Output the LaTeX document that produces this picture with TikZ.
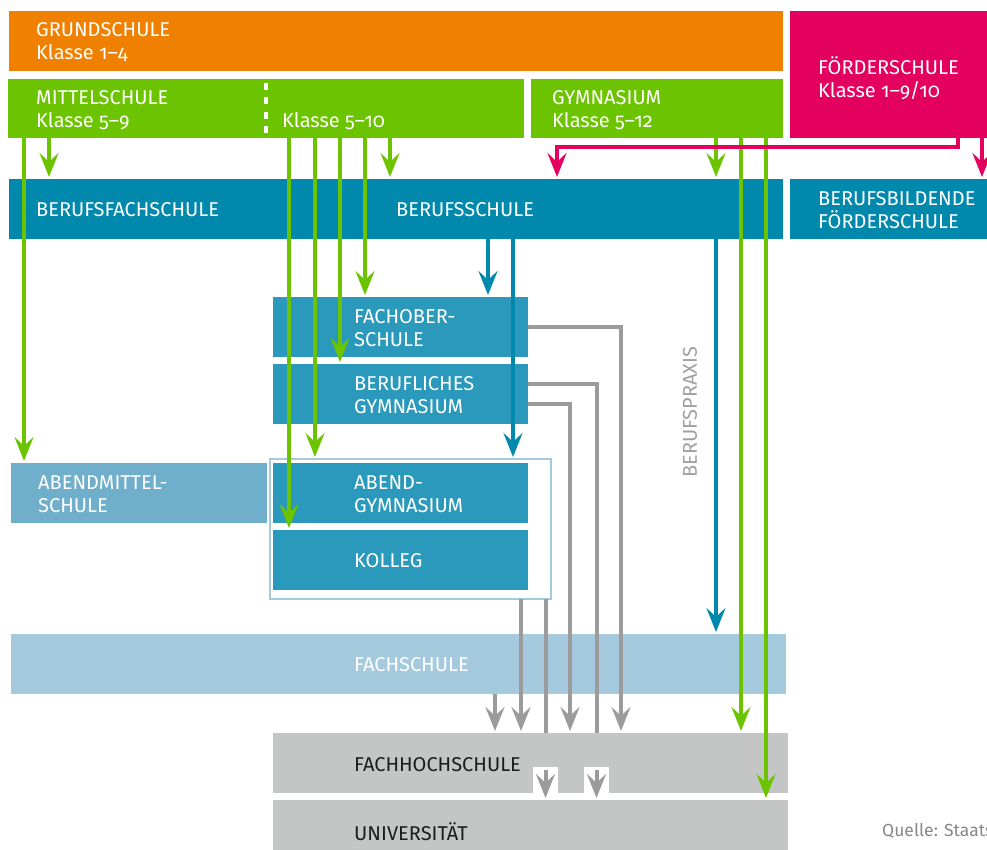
\documentclass[tikz,border=0pt]{standalone}
\usepackage{fontspec}
\setmainfont{Fira Sans}[Numbers=OldStyle]
\usetikzlibrary{arrows.meta}

\definecolor{grundorange}{RGB}{240,128,0}
\definecolor{mittelgreen}{RGB}{108,196,0}
\definecolor{foerderpink}{RGB}{228,0,95}
\definecolor{berufblue}{RGB}{0,136,173}
\definecolor{fosblue}{RGB}{42,153,187}
\definecolor{amsblue}{RGB}{111,175,203}
\definecolor{fsblue}{RGB}{166,202,221}
\definecolor{hochgrey}{RGB}{196,197,197}
\definecolor{pfeilgrey}{RGB}{155,155,155}
\definecolor{praxisgrey}{RGB}{160,160,160}
\definecolor{quellegrey}{RGB}{135,135,135}
\definecolor{hochtext}{RGB}{29,29,27}

\begin{document}
\begin{tikzpicture}[x=1pt,y=-1pt]
            \tikzstyle{school box}=[rectangle,inner sep=0,outer sep=0,anchor=north west]
            \tikzstyle{box text}=[inner sep=0,anchor=west,align=left,text=white,font=\fontsize{20}{23}\selectfont]
            \tikzstyle{dark text}=[box text,text=hochtext]
            \tikzstyle{green arrow}=[draw=mittelgreen,line width=4pt,-{Stealth[length=24pt,width=19pt,inset=9pt]},shorten >=2pt]
            \tikzstyle{blue arrow}=[green arrow,draw=berufblue]
            \tikzstyle{pink arrow}=[green arrow,draw=foerderpink]
            \tikzstyle{grey arrow}=[green arrow,draw=pfeilgrey]
            \tikzstyle{grey line}=[draw=pfeilgrey,line width=4pt]

            \useasboundingbox (0,0) rectangle (987,850);

            % boxes
            \node[school box,fill=grundorange,minimum width=774pt,minimum height=60pt] (grund) at (9,11) {};
            \node[school box,fill=foerderpink,minimum width=200pt,minimum height=127pt] (foerder) at (790,11) {};
            \node[school box,fill=mittelgreen,minimum width=516pt,minimum height=59pt] (mittel) at (8,79) {};
            \node[school box,fill=mittelgreen,minimum width=252pt,minimum height=59pt] (gym) at (531,79) {};
            \node[school box,fill=berufblue,minimum width=774pt,minimum height=60pt] (beruf) at (9,179) {};
            \node[school box,fill=berufblue,minimum width=200pt,minimum height=60pt] (bbf) at (790,179) {};
            \node[school box,fill=fosblue,minimum width=255pt,minimum height=60pt] (fos) at (273,297) {};
            \node[school box,fill=fosblue,minimum width=255pt,minimum height=60pt] (bg) at (273,364) {};
            \node[school box,draw=fsblue,line width=1.5pt,minimum width=281pt,minimum height=140pt] (abendbox) at (270,459) {};
            \node[school box,fill=fosblue,minimum width=255pt,minimum height=60pt] (ag) at (273,463) {};
            \node[school box,fill=fosblue,minimum width=255pt,minimum height=60pt] (kolleg) at (273,530) {};
            \node[school box,fill=amsblue,minimum width=256pt,minimum height=60pt] (ams) at (11,463) {};
            \node[school box,fill=fsblue,minimum width=775pt,minimum height=60pt] (fs) at (11,634) {};
            \node[school box,fill=hochgrey,minimum width=515pt,minimum height=60pt] (fh) at (273,733) {};
            \node[school box,fill=hochgrey,minimum width=515pt,minimum height=60pt] (uni) at (273,800) {};
            \node[school box,fill=white,minimum width=25pt,minimum height=26pt] (gapa) at (533,767) {};
            \node[school box,fill=white,minimum width=25pt,minimum height=26pt] (gapb) at (584,767) {};

            \draw[white,line width=4pt,dash pattern=on 7pt off 7.5pt] (266,83) -- (266,136);

            % labels
            \node[box text] (grundtxt) at (36,42) {GRUNDSCHULE\\Klasse 1–4};
            \node[box text] (foerdertxt) at (818,78) {FÖRDERSCHULE\\Klasse 1–9/10};
            \node[box text] (mitteltxt) at (36,110) {MITTELSCHULE\\Klasse 5–9};
            \node[box text,anchor=base west] (realtxt) at (282,128) {Klasse 5–10};
            \node[box text] (gymtxt) at (552,110) {GYMNASIUM\\Klasse 5–12};
            \node[box text] (bfstxt) at (36,210) {BERUFSFACHSCHULE};
            \node[box text] (bstxt) at (396,210) {BERUFSSCHULE};
            \node[box text] (bbftxt) at (818,210) {BERUFSBILDENDE\\FÖRDERSCHULE};
            \node[box text] (fostxt) at (354,328) {FACHOBER-\\SCHULE};
            \node[box text] (bgtxt) at (354,395) {BERUFLICHES\\GYMNASIUM};
            \node[box text] (agtxt) at (354,494) {ABEND-\\GYMNASIUM};
            \node[box text] (kollegtxt) at (354,561) {KOLLEG};
            \node[box text] (amstxt) at (38,494) {ABENDMITTEL-\\SCHULE};
            \node[box text] (fstxt) at (354,665) {FACHSCHULE};
            \node[dark text] (fhtxt) at (354,765) {FACHHOCHSCHULE};
            \node[dark text] (unitxt) at (354,832) {UNIVERSITÄT};
            \node[box text,anchor=center,rotate=90,text=praxisgrey] (praxis) at (690,412) {BERUFSPRAXIS};
            \node[box text,anchor=base west,text=quellegrey,font=\fontsize{17.5}{21}\selectfont] (quelle) at (882,836) {Quelle: Staats};

            % green paths
            \draw[green arrow] (24,0 |- mittel.south) -- (24,0 |- ams.north);
            \draw[green arrow] (49,0 |- mittel.south) -- (49,0 |- beruf.north);
            \draw[green arrow] (289,0 |- mittel.south) -- (289,0 |- kolleg.north);
            \draw[green arrow] (315,0 |- mittel.south) -- (315,0 |- abendbox.north);
            \draw[green arrow] (340,0 |- mittel.south) -- (340,0 |- bg.north);
            \draw[green arrow] (365,0 |- mittel.south) -- (365,0 |- fos.north);
            \draw[green arrow] (390,0 |- mittel.south) -- (390,0 |- beruf.north);
            \draw[green arrow] (716,0 |- gym.south) -- (716,0 |- beruf.north);
            \draw[green arrow] (741,0 |- gym.south) -- (741,0 |- fh.north);
            \draw[green arrow] (766,0 |- gym.south) -- (766,0 |- uni.north);

            % blue paths
            \draw[blue arrow] (488,0 |- beruf.south) -- (488,0 |- fos.north);
            \draw[blue arrow] (513,0 |- beruf.south) -- (513,0 |- abendbox.north);
            \draw[blue arrow] (716,0 |- beruf.south) -- (716,0 |- fs.north);

            % pink paths
            \draw[pink arrow] (958,0 |- foerder.south) -- ++(0,9) -| (557,0 |- beruf.north);
            \draw[pink arrow] (982,0 |- foerder.south) -- (982,0 |- bbf.north);

            % grey paths
            \draw[grey arrow] (495,0 |- fs.south) -- (495,0 |- fh.north);
            \draw[grey arrow] (521,0 |- abendbox.south) -- (521,0 |- fh.north);
            \draw[grey line] (546,0 |- abendbox.south) -- (546,0 |- fh.north);
            \draw[grey arrow] (bg.east |- 0,404) -| (570,0 |- fh.north);
            \draw[grey line] (bg.east |- 0,384) -| (597,0 |- fh.north);
            \draw[grey arrow] (fos.east |- 0,327) -| (621,0 |- fh.north);
            \draw[grey arrow] ([yshift=-3pt]gapa.north) -- (gapa.north |- uni.north);
            \draw[grey arrow] ([yshift=-3pt]gapb.north) -- (gapb.north |- uni.north);
\end{tikzpicture}
\end{document}
